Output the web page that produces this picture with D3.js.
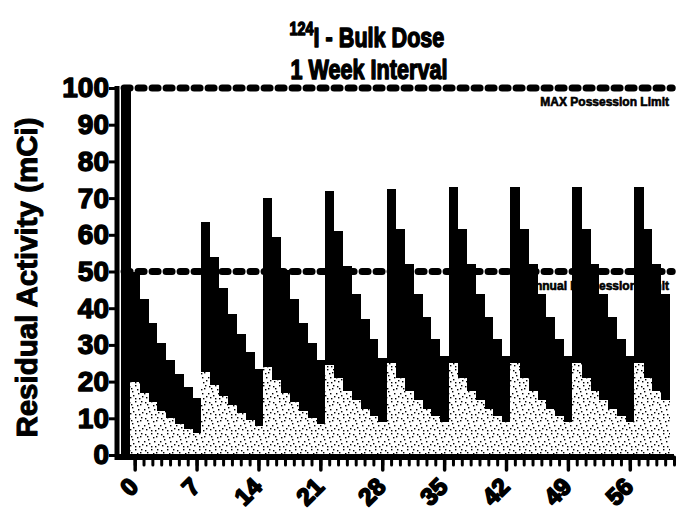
<!DOCTYPE html>
<html>
<head>
<meta charset="utf-8">
<script src="https://cdn.jsdelivr.net/npm/d3@7"></script>
<style>
  body { margin: 0; background: #fff; }
  text { font-family: 'Liberation Sans', Arial, Helvetica, sans-serif; font-weight: bold; fill: #000; }
  .heavy { stroke: #000; stroke-width: 1.4; paint-order: stroke; stroke-linejoin: round; }
  rect.bar { shape-rendering: crispEdges; }
</style>
</head>
<body>
<div id="chart"></div>
<script>
// day number of each bar (doses on day -1, 0, then every 7 days from day 8)
const days = [-1, 0, 1, 2, 3, 4, 5, 6, 7, 8, 9, 10, 11, 12, 13, 14, 15, 16, 17, 18, 19, 20,
  21, 22, 23, 24, 25, 26, 27, 28, 29, 30, 31, 32, 33, 34, 35, 36, 37, 38, 39, 40, 41, 42,
  43, 44, 45, 46, 47, 48, 49, 50, 51, 52, 53, 54, 55, 56, 57, 58, 59, 60];

// total residual activity on hand (black bars), mCi
const residual = [100, 50, 42.5, 36, 30.5, 26, 22, 18.5, 15.5,
  63.5, 54, 45.5, 38.5, 33, 28, 23.5,
  70, 59.5, 50.5, 42.5, 36, 30.5, 26,
  72, 61, 51.5, 44, 37, 31.5, 26.5,
  72.5, 61.5, 52, 44, 37.5, 31.5, 27,
  73, 61.5, 52, 44, 37.5, 31.5, 27,
  73, 61.5, 52, 44, 37.5, 31.5, 27,
  73, 61.5, 52, 44, 37.5, 31.5, 27,
  73, 61.5, 52, 44];

// stippled bars, mCi
const stippled = [0, 20, 17, 14.5, 12, 10, 8.5, 7, 6,
  22.5, 19, 16, 13.5, 11.5, 9.5, 8,
  24, 20.5, 17, 14.5, 12, 10, 8.5,
  24.5, 21, 17.5, 15, 12.5, 10.5, 9,
  25, 21, 17.5, 15, 12.5, 10.5, 9,
  25, 21, 17.5, 15, 12.5, 10.5, 9,
  25, 21, 17.5, 15, 12.5, 10.5, 9,
  25, 21, 17.5, 15, 12.5, 10.5, 9,
  25, 21, 17.5, 15];

const xTickLabels = [0, 7, 14, 21, 28, 35, 42, 49, 56];
const xMinorTicks = [0, 1, 2, 3, 4, 5, 6, 7, 8, 9, 10, 11, 12, 13, 14, 15, 16, 17, 18, 19, 20,
  21, 22, 23, 24, 25, 26, 27, 28, 29, 30, 31, 32, 33, 34, 35, 36, 37, 38, 39, 40, 41, 42,
  43, 44, 45, 46, 47, 48, 49, 50, 51, 52, 53, 54, 55, 56, 57, 58, 59, 60, 61];
const yTicks = [0, 10, 20, 30, 40, 50, 60, 70, 80, 90, 100];

const limits = [
  { value: 100, label: 'MAX Possession Limit' },
  { value: 50, label: 'Annual Possession Limit' }
];

const W = 686, H = 513;
const svg = d3.select('#chart').append('svg')
  .attr('width', W)
  .attr('height', H);

svg.append('rect').attr('width', W).attr('height', H).attr('fill', '#fff');

// stipple fill
const defs = svg.append('defs');
const pat = defs.append('pattern')
  .attr('id', 'stipple')
  .attr('patternUnits', 'userSpaceOnUse')
  .attr('width', 16)
  .attr('height', 16);
pat.append('rect').attr('width', 16).attr('height', 16).attr('fill', '#fff');
const dots = [[1, 2], [7, 1], [12, 4], [4, 7], [10, 9], [14, 12], [2, 13], [7, 14], [9, 5], [5, 11],
  [13, 1], [0, 9], [11, 14], [3, 4]];
pat.selectAll('rect.dot').data(dots).enter().append('rect')
  .attr('class', 'dot')
  .attr('x', d => d[0]).attr('y', d => d[1])
  .attr('width', 1.4).attr('height', 1.4)
  .attr('fill', '#000');

const x = d3.scaleLinear().domain([-2, 61]).range([117, 674]);
const y = d3.scaleLinear().domain([0, 100]).range([455, 88]);
const bw = x(1) - x(0);

// limit lines (drawn under the bars)
const lim = svg.append('g').attr('class', 'limits');
lim.selectAll('line').data(limits).enter().append('line')
  .attr('x1', x(-1.2)).attr('x2', x(60.8))
  .attr('y1', d => y(d.value)).attr('y2', d => y(d.value))
  .attr('stroke', '#000')
  .attr('stroke-width', 7)
  .attr('stroke-linecap', 'round')
  .attr('stroke-dasharray', '6 8');
lim.selectAll('text').data(limits).enter().append('text')
  .attr('x', 669)
  .attr('y', d => y(d.value) + 18)
  .attr('text-anchor', 'end')
  .attr('font-size', 12)
  .attr('class', 'heavy')
  .style('stroke-width', 0.6)
  .text(d => d.label);

// bars
const data = days.map((d, i) => ({ day: d, total: residual[i], part: stippled[i] }));

svg.append('g').selectAll('rect').data(data).enter().append('rect')
  .attr('class', 'bar')
  .attr('x', d => x(d.day) - bw / 2)
  .attr('y', d => y(d.total))
  .attr('width', bw + 0.6)
  .attr('height', d => y(0) - y(d.total))
  .attr('fill', '#000');

svg.append('g').selectAll('rect').data(data.filter(d => d.part > 0)).enter().append('rect')
  .attr('class', 'bar')
  .attr('x', d => x(d.day) - bw / 2)
  .attr('y', d => y(d.part))
  .attr('width', bw + 0.6)
  .attr('height', d => y(0) - y(d.part))
  .attr('fill', 'url(#stipple)');

// x axis
const xAxisG = svg.append('g').attr('transform', 'translate(0,457)');
xAxisG.append('line')
  .attr('x1', x(-2)).attr('x2', x(61))
  .attr('stroke', '#000').attr('stroke-width', 6);
xAxisG.append('g')
  .call(d3.axisBottom(x).tickValues(xMinorTicks).tickSize(8).tickFormat(''))
  .call(g => g.select('.domain').remove())
  .call(g => g.selectAll('.tick line').attr('stroke-width', 3).attr('stroke-linecap', 'round'));
xAxisG.append('g')
  .call(d3.axisBottom(x).tickValues(xTickLabels).tickSize(13).tickFormat(''))
  .call(g => g.select('.domain').remove())
  .call(g => g.selectAll('.tick line').attr('stroke-width', 3.5).attr('stroke-linecap', 'round'));

svg.append('g').selectAll('text').data(xTickLabels).enter().append('text')
  .attr('class', 'heavy')
  .attr('transform', d => `translate(${x(d) + 5},488) rotate(-45)`)
  .attr('text-anchor', 'end')
  .attr('font-size', 24)
  .style('stroke-width', 1.8)
  .text(d => d);

// y axis
const yAxisG = svg.append('g').attr('transform', `translate(${x(-2)},0)`);
yAxisG.call(d3.axisLeft(y).tickValues(yTicks).tickSize(8).tickSizeOuter(0).tickPadding(0))
  .call(g => g.select('.domain').attr('stroke-width', 5))
  .call(g => g.selectAll('.tick line').attr('stroke-width', 3))
  .call(g => g.selectAll('.tick text')
    .attr('class', 'heavy')
    .attr('font-size', 28)
    .attr('font-family', null)
    .attr('fill', '#000'));
yAxisG.select('.domain').attr('d', `M0,${y(100) - 2}V${y(0) + 5}`);

// y axis title
svg.append('text')
  .attr('class', 'heavy')
  .attr('transform', `translate(37,${(y(0) + y(100)) / 2 + 6}) rotate(-90)`)
  .attr('text-anchor', 'middle')
  .attr('font-size', 29.5)
  .style('stroke-width', 1)
  .text('Residual Activity (mCi)');

// title
const t1 = svg.append('g').attr('transform', 'translate(367,47) scale(0.8,1)');
const tt = t1.append('text').attr('class', 'heavy').attr('text-anchor', 'middle').attr('font-size', 27);
tt.append('tspan').attr('font-size', 18).attr('dy', -12).text('124');
tt.append('tspan').attr('dy', 12).text('I - Bulk Dose');
svg.append('g').attr('transform', 'translate(369,79) scale(0.8,1)')
  .append('text').attr('class', 'heavy').attr('text-anchor', 'middle').attr('font-size', 27)
  .text('1 Week Interval');
</script>
</body>
</html>
